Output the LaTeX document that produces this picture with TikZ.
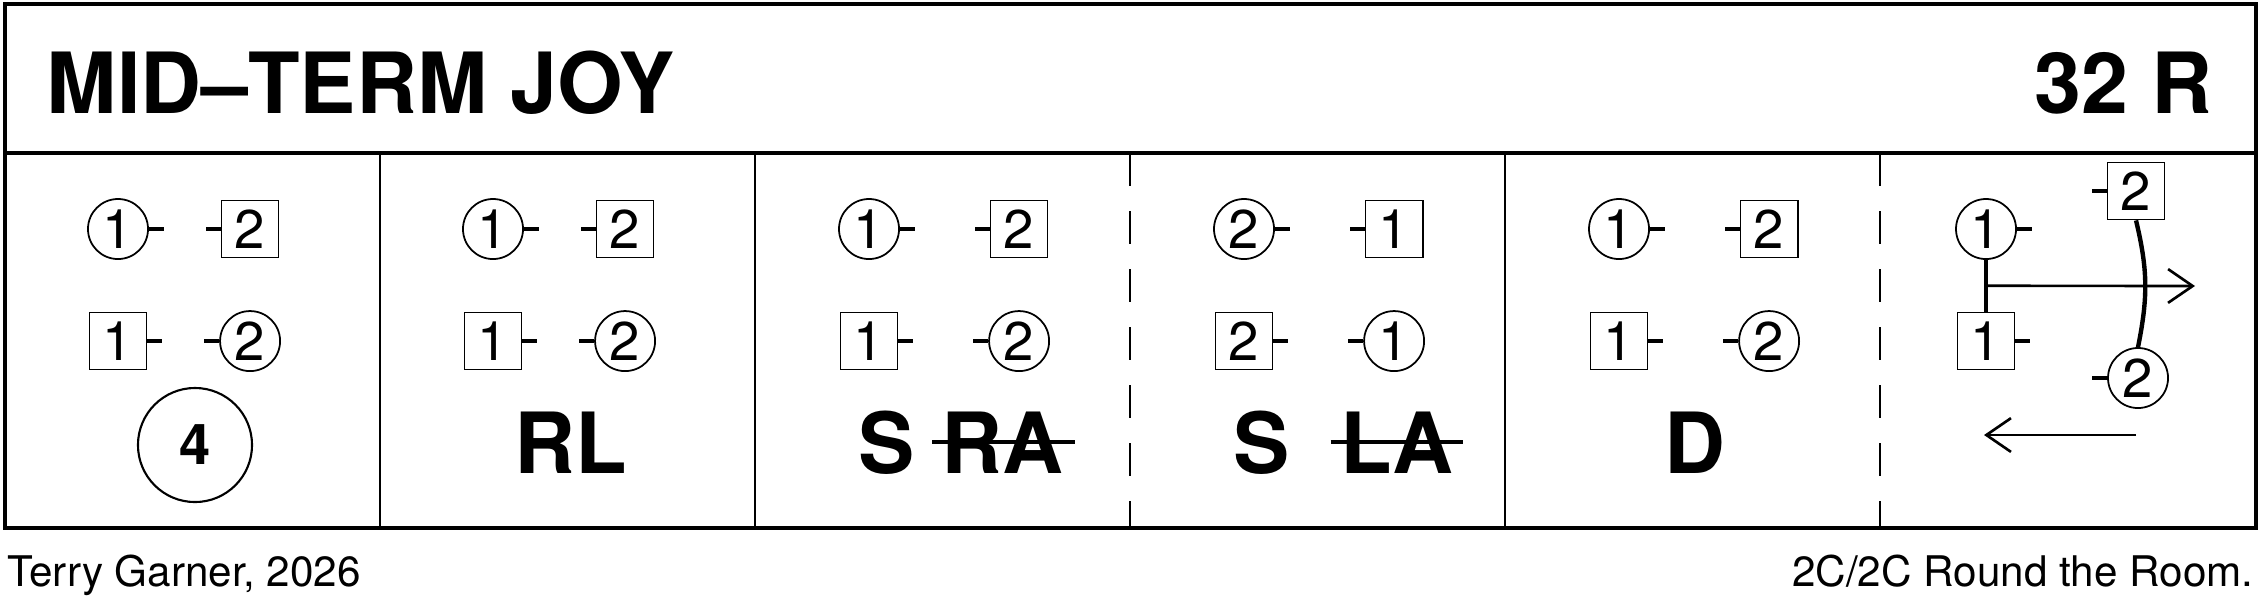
\documentclass[tikz,border=0pt]{standalone}
\usepackage{fontspec}
\setmainfont{TeX Gyre Heros}
\usetikzlibrary{calc,arrows.meta}

\begin{document}
\begin{tikzpicture}[x=0.01cm, y=-0.01cm, node distance=1.5cm, >={Straight Barb[length=7pt,width=9.6pt]}]
			\tikzstyle{man}=[draw, circle, line width=0.5pt, minimum size=0.6cm, inner sep=0pt, font=\fontsize{15.5}{16}\selectfont]
			\tikzstyle{lady}=[draw, rectangle, line width=0.5pt, minimum size=0.57cm, inner sep=0pt, font=\fontsize{15.5}{16}\selectfont]
			\tikzstyle{nub}=[line width=1.3pt]
			\tikzstyle{call}=[inner sep=0pt, anchor=base, font=\fontsize{24}{28}\selectfont\bfseries]
			\tikzstyle{head}=[inner sep=0pt, font=\fontsize{24}{28}\selectfont\bfseries]
			\tikzstyle{foot}=[inner sep=0pt, font=\fontsize{12}{14}\selectfont]
			\tikzstyle{frame}=[line width=1.1pt]
			\tikzstyle{divider}=[line width=0.8pt]
			\tikzstyle{halfbar}=[line width=0.8pt, dash pattern=on 0.33cm off 0.25cm]
			\tikzstyle{strike}=[line width=1.1pt]
			\tikzstyle{bar}=[line width=1.25pt]
			\tikzstyle{flow}=[line width=0.75pt]
			\useasboundingbox (0,0) rectangle (2267,608);
			%Frame
			\draw[frame] (5,4) rectangle (2256,528);
			\draw[frame] (5,153) -- (2256,153);
			\draw[divider] (380,153) -- (380,528);
			\draw[divider] (755,153) -- (755,528);
			\draw[halfbar] (1130,153) -- (1130,528);
			\draw[divider] (1505,153) -- (1505,528);
			\draw[halfbar] (1880,153) -- (1880,528);
			%Heading
			\node[head, anchor=base west](title) at (46,113){MID–TERM JOY};
			\node[head, anchor=base east](bars) at (2213,113){32 R};
			\node[foot, anchor=base west](credit) at (7,586){Terry Garner, 2026};
			\node[foot, anchor=base east](formation) at (2254,586){2C/2C Round the Room.};
			%Panel 1
			\node[man](p1m1) at (118,229){1};
			\node[lady](p1l2)[right of = p1m1, node distance=1.32cm]{2};
			\node[lady](p1l1)[below of = p1m1, node distance=1.12cm]{1};
			\node[man](p1m2)[right of = p1l1, node distance=1.32cm]{2};
			\draw[nub](p1m1.east) -- +(15,0);
			\draw[nub](p1l2.west) -- +(-15,0);
			\draw[nub](p1l1.east) -- +(15,0);
			\draw[nub](p1m2.west) -- +(-15,0);
			\node[draw, circle, line width=0.6pt, minimum size=1.14cm, inner sep=0pt, font=\fontsize{16}{18}\selectfont\bfseries](p1call) at (195,445){4};
			%Panel 2
			\node[man](p2m1) at (493,229){1};
			\node[lady](p2l2)[right of = p2m1, node distance=1.32cm]{2};
			\node[lady](p2l1)[below of = p2m1, node distance=1.12cm]{1};
			\node[man](p2m2)[right of = p2l1, node distance=1.32cm]{2};
			\draw[nub](p2m1.east) -- +(15,0);
			\draw[nub](p2l2.west) -- +(-15,0);
			\draw[nub](p2l1.east) -- +(15,0);
			\draw[nub](p2m2.west) -- +(-15,0);
			\node[call](p2call) at (571,473){RL};
			%Panel 3
			\node[man](p3m1) at (869,229){1};
			\node[lady](p3l2)[right of = p3m1]{2};
			\node[lady](p3l1)[below of = p3m1, node distance=1.12cm]{1};
			\node[man](p3m2)[right of = p3l1]{2};
			\draw[nub](p3m1.east) -- +(15,0);
			\draw[nub](p3l2.west) -- +(-15,0);
			\draw[nub](p3l1.east) -- +(15,0);
			\draw[nub](p3m2.west) -- +(-15,0);
			\node[call](p3s) at (887,473){S};
			\node[call](p3ra) at (1002,473){RA};
			\draw[strike]($(p3ra.west)+(-8,0)$) -- ($(p3ra.east)+(11,0)$);
			%Panel 4
			\node[man](p4m2) at (1244,229){2};
			\node[lady](p4l1)[right of = p4m2]{1};
			\node[lady](p4l2)[below of = p4m2, node distance=1.12cm]{2};
			\node[man](p4m1)[right of = p4l2]{1};
			\draw[nub](p4m2.east) -- +(15,0);
			\draw[nub](p4l1.west) -- +(-15,0);
			\draw[nub](p4l2.east) -- +(15,0);
			\draw[nub](p4m1.west) -- +(-15,0);
			\node[call](p4s) at (1262,473){S};
			\node[call](p4la) at (1397,473){LA};
			\draw[strike]($(p4la.west)+(-9,0)$) -- ($(p4la.east)+(9,0)$);
			%Panel 5
			\node[man](p5m1) at (1619,229){1};
			\node[lady](p5l2)[right of = p5m1]{2};
			\node[lady](p5l1)[below of = p5m1, node distance=1.12cm]{1};
			\node[man](p5m2)[right of = p5l1]{2};
			\draw[nub](p5m1.east) -- +(15,0);
			\draw[nub](p5l2.west) -- +(-15,0);
			\draw[nub](p5l1.east) -- +(15,0);
			\draw[nub](p5m2.west) -- +(-15,0);
			\node[call](p5call) at (1695,473){D};
			%Panel 6
			\node[man](p6m1) at (1986,229){1};
			\node[lady](p6l2) at (2136,191){2};
			\node[lady](p6l1) at (1986,341){1};
			\node[man](p6m2) at (2138,378){2};
			\draw[nub](p6m1.east) -- +(15,0);
			\draw[nub](p6l2.west) -- +(-15,0);
			\draw[nub](p6l1.east) -- +(15,0);
			\draw[nub](p6m2.west) -- +(-15,0);
			\draw[bar](p6m1) -- (p6l1);
			\draw[bar](p6l2.south) .. controls +(12,50) and +(10,-50) .. (p6m2.north);
			\coordinate (p6hold) at ($(p6m1.south)!0.5!(p6l1.north)$);
			\coordinate (p6east) at (2195,286);
			\coordinate (p6back) at (2136,435);
			\coordinate (p6west) at (1984,435);
			\draw[flow, ->](p6hold) -- (p6east);
			\draw[flow, ->](p6back) -- (p6west);
\end{tikzpicture}
\end{document}
